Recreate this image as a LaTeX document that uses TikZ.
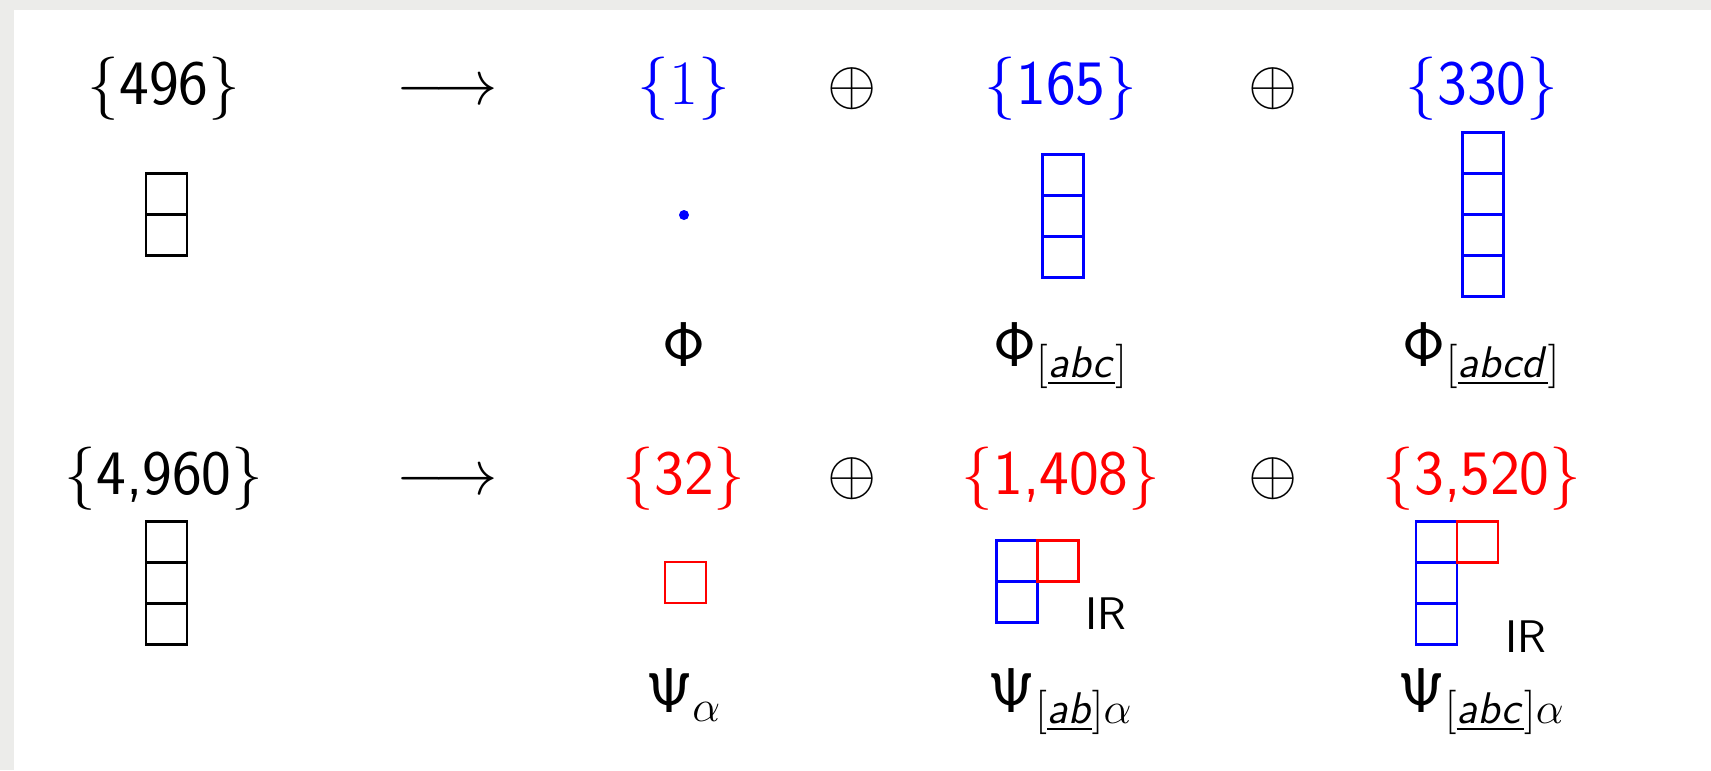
\RequirePackage{fix-cm}
\documentclass[tikz,border=0pt]{standalone}
\usepackage{amsmath}
\usetikzlibrary{positioning}

\DeclareMathAlphabet{\mathsfsl}{OT1}{cmss}{m}{sl}
\definecolor{bggray}{RGB}{236,236,234}
\newcommand{\irrep}[1]{$\{\mbox{\sffamily #1}\}$}
\newcommand{\idx}[1]{[\underline{\mathsfsl{#1}}]}

\begin{document}
\begin{tikzpicture}[font=\fontsize{18}{22}\selectfont,
  lab/.style={anchor=base, inner sep=0pt},
  cell/.style={draw, minimum size=0.41cm, inner sep=0pt, outer sep=0pt, line width=0.8pt},
  tag/.style={anchor=base west, inner sep=0pt, font=\fontsize{13}{15}\selectfont\sffamily}
]
  % page
  \fill[bggray] (0,0) rectangle (17.11,-7.70);
  \fill[white] (0.14,-0.10) rectangle (17.11,-7.70);
  \useasboundingbox (0,0) rectangle (17.11,-7.70);

  % adjoint row
  \node[lab]       (n496)  at (1.64,-1.04)  {\irrep{496}};
  \node[lab]       (arrA)  at (4.47,-1.04)  {$\longrightarrow$};
  \node[lab, blue] (n1)    at (6.84,-1.04)  {$\{1\}$};
  \node[lab]       (plusA) at (8.52,-1.04)  {$\oplus$};
  \node[lab, blue] (n165)  at (10.61,-1.04) {\irrep{165}};
  \node[lab]       (plusB) at (12.73,-1.04) {$\oplus$};
  \node[lab, blue] (n330)  at (14.82,-1.04) {\irrep{330}};

  % tableaux
  \node[cell] (a1) at (1.665,-1.94) {};
  \node[cell, below=0pt of a1] (a2) {};
  \node[circle, fill=blue, inner sep=0pt, minimum size=0.1cm] (dot) at (6.84,-2.15) {};
  \node[cell, blue] (b1) at (10.63,-1.75) {};
  \node[cell, blue, below=0pt of b1] (b2) {};
  \node[cell, blue, below=0pt of b2] (b3) {};
  \node[cell, blue] (c1) at (14.83,-1.53) {};
  \node[cell, blue, below=0pt of c1] (c2) {};
  \node[cell, blue, below=0pt of c2] (c3) {};
  \node[cell, blue, below=0pt of c3] (c4) {};

  \node[lab] (phi)   at (6.84,-3.66)  {$\mathsf{\Phi}$};
  \node[lab] (phi3)  at (10.61,-3.66) {$\mathsf{\Phi}_{\idx{abc}}$};
  \node[lab] (phi4)  at (14.82,-3.66) {$\mathsf{\Phi}_{\idx{abcd}}$};

  % spinor row
  \node[lab]      (n4960) at (1.64,-4.94)  {\irrep{4,960}};
  \node[lab]      (arrB)  at (4.47,-4.94)  {$\longrightarrow$};
  \node[lab, red] (n32)   at (6.84,-4.94)  {\irrep{32}};
  \node[lab]      (plusC) at (8.52,-4.94)  {$\oplus$};
  \node[lab, red] (n1408) at (10.61,-4.94) {\irrep{1,408}};
  \node[lab]      (plusD) at (12.73,-4.94) {$\oplus$};
  \node[lab, red] (n3520) at (14.82,-4.94) {\irrep{3,520}};

  \node[cell] (d1) at (1.665,-5.42) {};
  \node[cell, below=0pt of d1] (d2) {};
  \node[cell, below=0pt of d2] (d3) {};
  \node[cell, red] (e1) at (6.855,-5.825) {};
  \node[cell, blue] (f1) at (10.17,-5.61) {};
  \node[cell, blue, below=0pt of f1] (f2) {};
  \node[cell, red, right=0pt of f1] (f3) {};
  \node[tag] (irA) at (10.85,-6.29) {IR};
  \node[cell, blue] (g1) at (14.365,-5.42) {};
  \node[cell, blue, below=0pt of g1] (g2) {};
  \node[cell, blue, below=0pt of g2] (g3) {};
  \node[cell, red, right=0pt of g1] (g4) {};
  \node[tag] (irB) at (15.05,-6.52) {IR};

  \node[lab] (psi)   at (6.84,-7.12)  {$\mathsf{\Psi}_{\alpha}$};
  \node[lab] (psi2)  at (10.61,-7.12) {$\mathsf{\Psi}_{\idx{ab}\alpha}$};
  \node[lab] (psi3)  at (14.82,-7.12) {$\mathsf{\Psi}_{\idx{abc}\alpha}$};
\end{tikzpicture}
\end{document}
